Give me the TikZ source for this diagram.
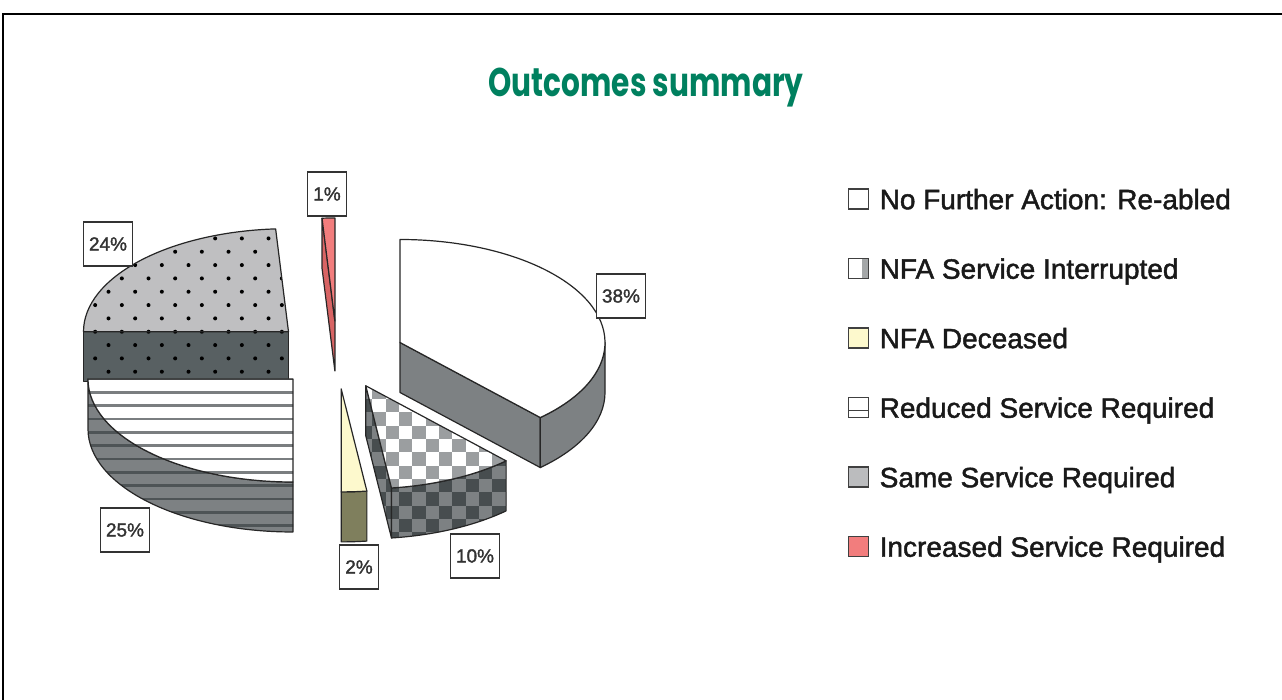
\documentclass[tikz,border=0pt]{standalone}
\usepackage{fontspec}
\setmainfont{Liberation Sans}
\newfontfamily\legfont{Liberation Sans}[BoldFont={Liberation Sans}, BoldFeatures={FakeBold=1.6}]
\newfontfamily\titlefont{Poppins}
\usetikzlibrary{positioning}

\definecolor{titlegreen}{HTML}{00805F}
\definecolor{rimgray}{HTML}{7D8183}
\definecolor{chklight}{HTML}{9B9EA0}
\definecolor{chkdark}{HTML}{474D4F}
\definecolor{dotlight}{HTML}{BFBFC1}
\definecolor{dotdark}{HTML}{586062}
\definecolor{stripegray}{HTML}{7A7E80}
\definecolor{stripedark}{HTML}{4E5456}
\definecolor{paleyellow}{HTML}{FDF9CD}
\definecolor{olivegray}{HTML}{7F7F5D}
\definecolor{redtop}{HTML}{F27D7D}
\definecolor{redside}{HTML}{D86464}
\definecolor{keygray}{HTML}{BBBCBE}

\tikzset{
  face/.style={draw=black!85, line width=1.2pt, line join=round},
  checks/.style 2 args={fill=#1, path picture={
      \foreach \i in {0,...,33} \foreach \j in {0,2,...,20}
        \fill[#2] ({-220+\i*13.33},{-160+(\j+mod(\i,2))*13.33}) rectangle +(13.33,13.33);}},
  dots/.style={fill=#1, path picture={
      \foreach \i in {0,...,16} \foreach \j in {0,...,20}
        \fill[black] ({-220+\i*26.67+mod(\j,2)*13.33},{-160+\j*13.33}) circle (2);}},
  stripes/.style 2 args={fill=#1, path picture={
      \foreach \j in {0,...,20}
        \draw[#2, line width=2.4pt] (-220,{-160+\j*13.33}) -- (220,{-160+\j*13.33});}},
  lbl/.style={draw=black!80, fill=white, line width=1.4pt, inner xsep=5.5pt,
      minimum height=44pt, text=black!80, font=\legfont\bfseries\fontsize{19}{21}\selectfont},
  key/.style={draw=black!75, line width=1.8pt, minimum size=20pt, inner sep=0pt, outer sep=0pt},
  legtext/.style={inner sep=0pt, text height=20.5pt, text depth=0pt, anchor=west,
      text=black!90, font=\legfont\bfseries\fontsize{28}{30}\selectfont},
}

\begin{document}
\begin{tikzpicture}[x=1pt,y=1pt]
  \useasboundingbox (0,0) rectangle (1282,700);
  \draw[line width=2.5pt] (3,-10) -- (3,686) -- (1300,686);
  \node[anchor=base, text=titlegreen, font=\titlefont\bfseries\fontsize{40}{44}\selectfont] (title) at (646,603)
    {\scalebox{0.74}[1]{Outcomes summary}};

  % 1%
  \begin{scope}[shift={(334.9,379)}]
    \draw[face, fill=redside] (0,0) -- (93.6:205pt and 103pt) -- ++(0,-50) -- (0,-50) -- cycle;
    \draw[face, fill=redtop] (0,0) -- (90:205pt and 103pt) arc[start angle=90, end angle=93.6, x radius=205pt, y radius=103pt] -- cycle;
  \end{scope}
  % 24%
  \begin{scope}[shift={(288.5,368.3)}]
    \draw[face, dots=dotdark] (0,0) -- (180:205pt and 103pt) -- ++(0,-50) -- (0,-50) -- cycle;
    \draw[face, dots=dotlight] (0,0) -- (93.6:205pt and 103pt) arc[start angle=93.6, end angle=180, x radius=205pt, y radius=103pt] -- cycle;
  \end{scope}
  % 38%
  \begin{scope}[shift={(400,357.5)}]
    \draw[face, fill=rimgray] (0,0) -- (-46.8:205pt and 103pt) -- ++(0,-50) -- (0,-50) -- cycle;
    \draw[face, fill=rimgray] (-46.8:205pt and 103pt) arc[start angle=-46.8, end angle=0, x radius=205pt, y radius=103pt]
      -- ++(0,-50) arc[start angle=0, end angle=-46.8, x radius=205pt, y radius=103pt] -- cycle;
    \draw[face, fill=white] (0,0) -- (-46.8:205pt and 103pt) arc[start angle=-46.8, end angle=90, x radius=205pt, y radius=103pt] -- cycle;
  \end{scope}
  % 25%
  \begin{scope}[shift={(293,321)}]
    \draw[face, stripes={rimgray}{stripedark}] (-180:205pt and 103pt) arc[start angle=-180, end angle=-90, x radius=205pt, y radius=103pt]
      -- ++(0,-50) arc[start angle=-90, end angle=-180, x radius=205pt, y radius=103pt] -- cycle;
    \draw[face, stripes={white}{stripegray}] (0,0) -- (-180:205pt and 103pt) arc[start angle=-180, end angle=-90, x radius=205pt, y radius=103pt] -- cycle;
  \end{scope}
  % 10%
  \begin{scope}[shift={(365.8,314.2)}]
    \draw[face, checks={rimgray}{chkdark}] (0,0) -- (-82.8:205pt and 103pt) -- ++(0,-50) -- (0,-50) -- cycle;
    \draw[face, checks={rimgray}{chkdark}] (-82.8:205pt and 103pt) arc[start angle=-82.8, end angle=-46.8, x radius=205pt, y radius=103pt]
      -- ++(0,-50) arc[start angle=-46.8, end angle=-82.8, x radius=205pt, y radius=103pt] -- cycle;
    \draw[face, checks={white}{chklight}] (0,0) -- (-82.8:205pt and 103pt) arc[start angle=-82.8, end angle=-46.8, x radius=205pt, y radius=103pt] -- cycle;
  \end{scope}
  % 2%
  \begin{scope}[shift={(341.2,311.1)}]
    \draw[face, fill=olivegray] (-90:205pt and 103pt) arc[start angle=-90, end angle=-82.8, x radius=205pt, y radius=103pt]
      -- ++(0,-50) arc[start angle=-82.8, end angle=-90, x radius=205pt, y radius=103pt] -- cycle;
    \draw[face, fill=paleyellow] (0,0) -- (-90:205pt and 103pt) arc[start angle=-90, end angle=-82.8, x radius=205pt, y radius=103pt] -- cycle;
  \end{scope}

  % data labels
  \node[lbl] (l1) at (327,506) {1\%};
  \node[lbl] (l24) at (108,456) {24\%};
  \node[lbl] (l25) at (125,170) {25\%};
  \node[lbl] (l2) at (359,133) {2\%};
  \node[lbl] (l10) at (475,144) {10\%};
  \node[lbl] (l38) at (621,404) {38\%};

  % legend
  \node[key, fill=white] (k1) at (858.5,501) {};
  \node[key, fill=white, below=49.5pt of k1, path picture={
      \fill[rimgray!70] ([xshift=-7pt]path picture bounding box.north east) rectangle (path picture bounding box.south east);}] (k2) {};
  \node[key, fill=paleyellow, below=49.5pt of k2] (k3) {};
  \node[key, fill=white, below=49.5pt of k3, path picture={
      \draw[black!75, line width=1.6pt] ([yshift=-3pt]path picture bounding box.west) -- ([yshift=-3pt]path picture bounding box.east);}] (k4) {};
  \node[key, fill=keygray, below=49.5pt of k4] (k5) {};
  \node[key, fill=redtop, below=49.5pt of k5] (k6) {};
  \node[legtext, right=11pt of k1] (t1) {No Further Action: Re-abled};
  \node[legtext, right=11pt of k2] (t2) {NFA Service Interrupted};
  \node[legtext, right=11pt of k3] (t3) {NFA Deceased};
  \node[legtext, right=11pt of k4] (t4) {Reduced Service Required};
  \node[legtext, right=11pt of k5] (t5) {Same Service Required};
  \node[legtext, right=11pt of k6] (t6) {Increased Service Required};
\end{tikzpicture}
\end{document}
